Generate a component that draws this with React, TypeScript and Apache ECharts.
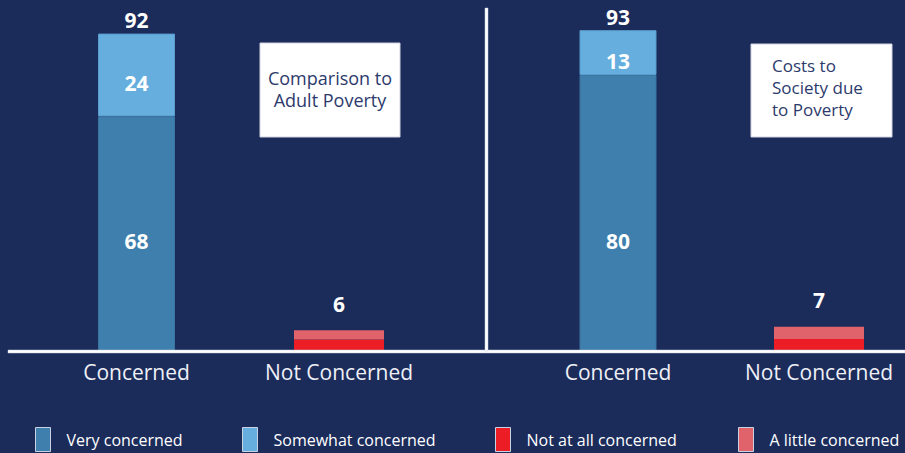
import React, { useEffect, useRef } from "react";
import * as echarts from "echarts";

const categories = ["Concerned", "Not Concerned"];
// Left panel: Comparison to Adult Poverty
const leftVery = [68, null];
const leftSomewhat = [24, null];
const leftNotAtAll = [null, 3.3];
const leftALittle = [null, 2.7];
const leftTotals = [92, 6];
// Right panel: Costs to Society due to Poverty
const rightVery = [80, null];
const rightSomewhat = [13, null];
const rightNotAtAll = [null, 3.5];
const rightALittle = [null, 3.5];
const rightTotals = [93, 7];

const legendNames = ["Very concerned", "Somewhat concerned", "Not at all concerned", "A little concerned"];
const leftBoxLines = ["Comparison to", "Adult Poverty"];
const rightBoxLines = ["Costs to", "Society due", "to Poverty"];

const C_VERY = "#3e7fae";
const C_SOME = "#65aede";
const C_RED = "#ec1d25";
const C_LRED = "#e0626b";
const BG = "#1b2b5a";
const FONT = "'Open Sans', sans-serif";

function panelSeries(gi: number, very: any[], some: any[], notAtAll: any[], aLittle: any[], totals: number[]) {
  const bx = gi * 2;
  const rx = gi * 2 + 1;
  const numLabel = { color: "#ffffff", fontSize: 21, fontWeight: "bold", fontFamily: FONT };
  return [
    {
      name: legendNames[0], type: "bar", xAxisIndex: bx, yAxisIndex: gi, stack: "b" + gi, barWidth: 77,
      data: very, itemStyle: { color: C_VERY, borderColor: "#3a74a0", borderWidth: 1 },
      label: { show: true, position: "insideBottom", distance: 100, ...numLabel },
    },
    {
      name: legendNames[1], type: "bar", xAxisIndex: bx, yAxisIndex: gi, stack: "b" + gi, barWidth: 77,
      data: some, itemStyle: { color: C_SOME, borderColor: "#5a9ccb", borderWidth: 1 },
      label: { show: true, position: "inside", offset: [0, 8], ...numLabel },
    },
    {
      name: "total-b" + gi, type: "bar", xAxisIndex: bx, yAxisIndex: gi, stack: "b" + gi, barWidth: 77,
      data: very.map((v) => (v == null ? null : 0)), itemStyle: { color: "transparent" },
      label: { show: true, position: "top", distance: 3, formatter: (p: any) => String(totals[p.dataIndex]), ...numLabel },
      tooltip: { show: false },
    },
    {
      name: legendNames[2], type: "bar", xAxisIndex: rx, yAxisIndex: gi, stack: "r" + gi, barWidth: 90,
      data: notAtAll, itemStyle: { color: C_RED },
    },
    {
      name: legendNames[3], type: "bar", xAxisIndex: rx, yAxisIndex: gi, stack: "r" + gi, barWidth: 90,
      data: aLittle, itemStyle: { color: C_LRED },
      label: { show: true, position: "top", distance: 16, formatter: (p: any) => String(totals[p.dataIndex]), ...numLabel },
    },
  ];
}

export default function App() {
  const ref = useRef<HTMLDivElement>(null);
  useEffect(() => {
    if (!ref.current) return;
    const chart = echarts.init(ref.current, null, { renderer: "svg" });
    const grids = [
      { left: 35.25, width: 405, top: 6, bottom: 102, outerBoundsMode: "none" },
      { left: 517.5, width: 402, top: 6, bottom: 102, outerBoundsMode: "none" },
    ];
    const xAxes: any[] = [];
    const yAxes: any[] = [];
    grids.forEach((_, gi) => {
      xAxes.push({
        type: "category", gridIndex: gi, data: categories,
        axisLine: { show: false }, axisTick: { show: false },
        axisLabel: { color: "#eef0f6", fontSize: 21, margin: 10, fontFamily: FONT },
      });
      xAxes.push({ type: "category", gridIndex: gi, data: categories, show: false });
      yAxes.push({ type: "value", gridIndex: gi, min: 0, max: 100, show: false, splitLine: { show: false } });
    });
    const legendX = [35, 242, 495, 738];
    const legends = legendNames.map((n, i) => ({
      data: [n], left: legendX[i], top: 427, padding: 0, itemWidth: 15, itemHeight: 24, itemGap: 0,
      icon: "rect", selectedMode: false,
      itemStyle: { borderColor: "#c9d2e3", borderWidth: 1 },
      textStyle: { color: "#ffffff", fontSize: 16, fontFamily: FONT, padding: [0, 0, 0, 11] },
    }));
    const lineStyle = { fill: "#2c3a6c", fontSize: 17, lineHeight: 18, fontFamily: FONT, verticalAlign: "middle" };
    const option: any = {
      animation: false,
      backgroundColor: BG,
      grid: grids,
      xAxis: xAxes,
      yAxis: yAxes,
      legend: legends,
      series: [
        ...panelSeries(0, leftVery, leftSomewhat, leftNotAtAll, leftALittle, leftTotals),
        ...panelSeries(1, rightVery, rightSomewhat, rightNotAtAll, rightALittle, rightTotals),
      ],
      graphic: [
        { type: "rect", shape: { x: 8, y: 350, width: 897, height: 3 }, style: { fill: "#ffffff", stroke: "#c5cde0", lineWidth: 0.5 }, z: 10 },
        { type: "rect", shape: { x: 485, y: 8, width: 3, height: 343 }, style: { fill: "#ffffff", stroke: "#c5cde0", lineWidth: 0.5 }, z: 10 },
        { type: "rect", shape: { x: 260, y: 43, width: 140, height: 94 }, style: { fill: "#ffffff", stroke: "#d0d4de", lineWidth: 1 }, z: 10 },
        ...leftBoxLines.map((t, i) => ({
          type: "text", x: 330, y: 78 + i * 22, z: 11,
          style: { ...lineStyle, fontSize: 18, text: t, align: "center" },
        })),
        { type: "rect", shape: { x: 751, y: 44, width: 141, height: 93 }, style: { fill: "#ffffff", stroke: "#d0d4de", lineWidth: 1 }, z: 10 },
        ...rightBoxLines.map((t, i) => ({
          type: "text", x: 772, y: 65 + i * 22, z: 11,
          style: { ...lineStyle, text: t, align: "left" },
        })),
      ],
    };
    chart.setOption(option);
    return () => chart.dispose();
  }, []);
  return <div ref={ref} style={{ position: "fixed", left: 0, top: 0, width: 905, height: 453 }} />;
}
